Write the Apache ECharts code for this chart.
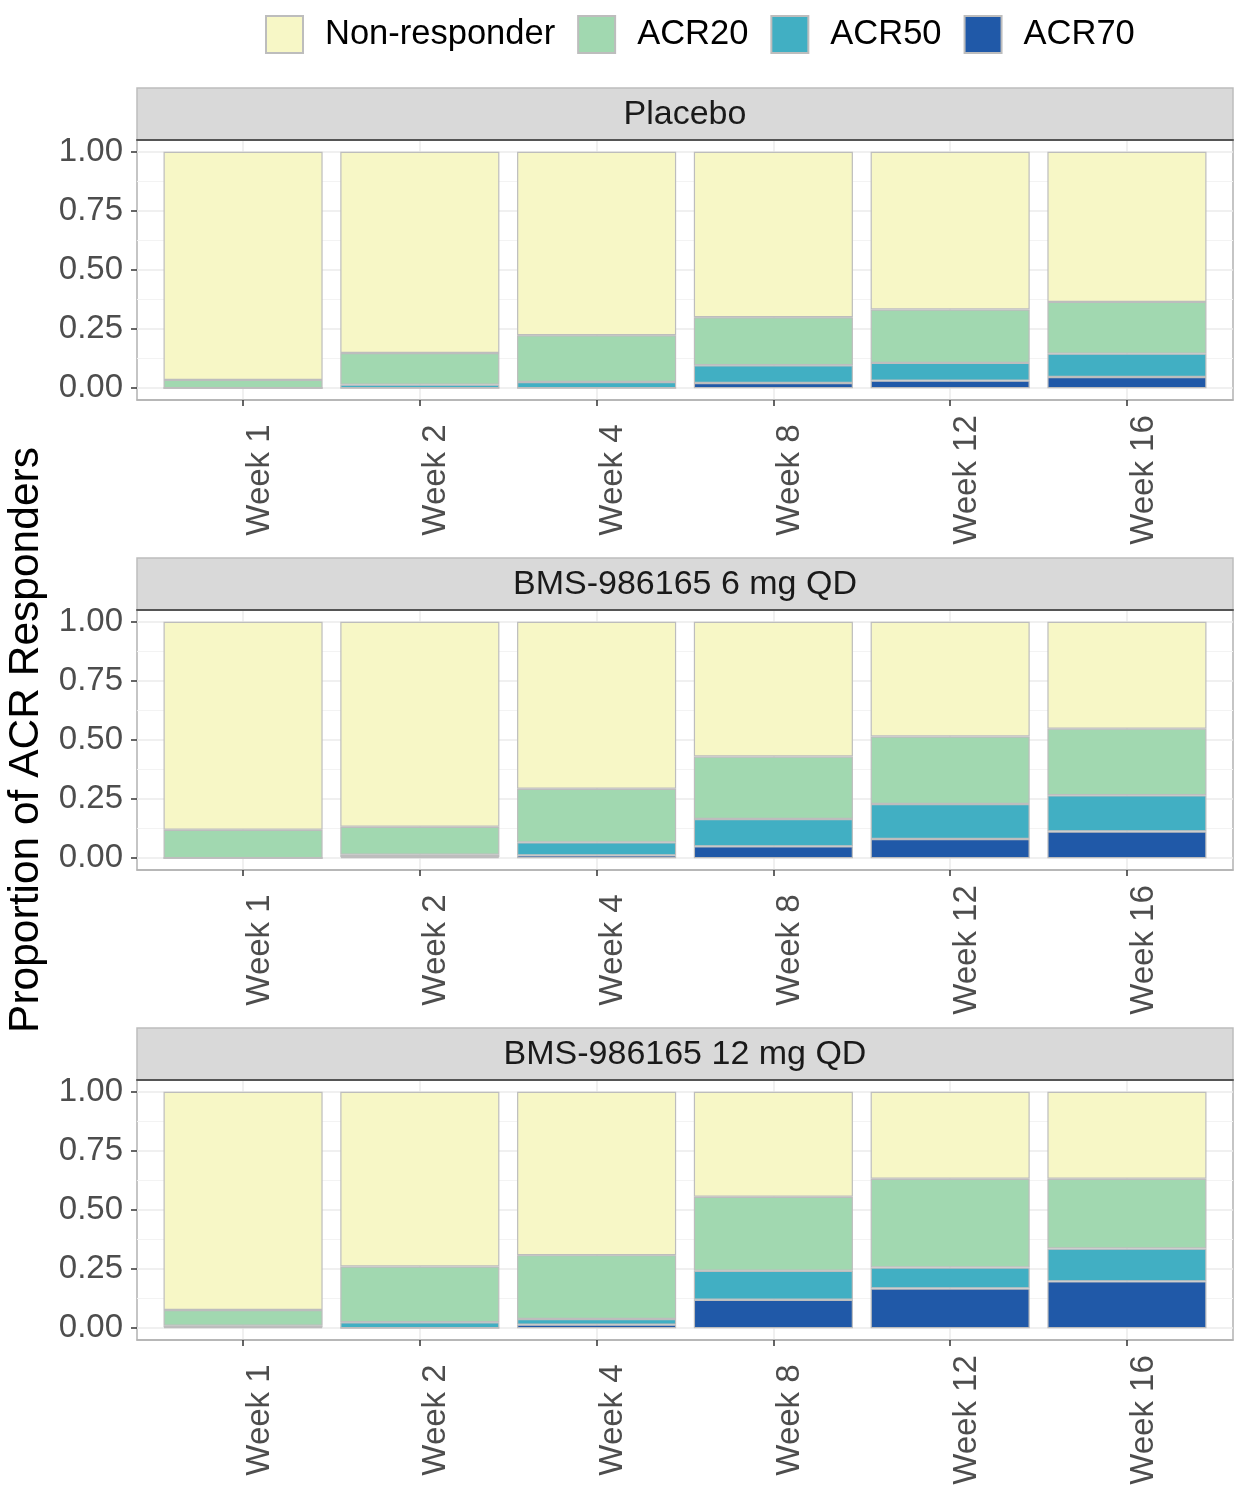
<!DOCTYPE html>
<html><head><meta charset="utf-8">
<script src="https://cdn.jsdelivr.net/npm/echarts@6/dist/echarts.min.js"></script>
<style>html,body{margin:0;padding:0;background:#fff}#c{width:1235px;height:1490px}</style>
</head><body><div id="c"></div>
<script>
// ---- data ----
const weeks = ['Week 1', 'Week 2', 'Week 4', 'Week 8', 'Week 12', 'Week 16'];
const panels = ['Placebo', 'BMS-986165 6 mg QD', 'BMS-986165 12 mg QD'];
const categories = ['Non-responder', 'ACR20', 'ACR50', 'ACR70'];
// cumulative proportion of responders at each level (ACR20 >= ACR50 >= ACR70)
const placeboACR20 = [0.035, 0.149, 0.224, 0.300, 0.333, 0.365];
const placeboACR50 = [0.000, 0.015, 0.026, 0.097, 0.107, 0.146];
const placeboACR70 = [0.000, 0.000, 0.000, 0.022, 0.032, 0.047];
const mg6ACR20 = [0.120, 0.133, 0.294, 0.430, 0.515, 0.548];
const mg6ACR50 = [0.000, 0.015, 0.067, 0.166, 0.229, 0.266];
const mg6ACR70 = [0.000, 0.005, 0.012, 0.050, 0.081, 0.113];
const mg12ACR20 = [0.077, 0.261, 0.309, 0.556, 0.632, 0.632];
const mg12ACR50 = [0.010, 0.025, 0.039, 0.243, 0.257, 0.337];
const mg12ACR70 = [0.004, 0.000, 0.015, 0.120, 0.168, 0.198];

const panelData = [
  [placeboACR20, placeboACR50, placeboACR70],
  [mg6ACR20, mg6ACR50, mg6ACR70],
  [mg12ACR20, mg12ACR50, mg12ACR70]
];

// ---- styles / layout ----
const colors = {'Non-responder': '#F7F7C6', 'ACR20': '#A1D8B0', 'ACR50': '#41AFC3', 'ACR70': '#2059A8'};
const FONT = "'Liberation Sans', Arial, Helvetica, sans-serif";
const LEFT = 137, RIGHT = 2, PLOT_W = 1235 - LEFT - RIGHT;
const panelTops = [140, 610, 1080];
const PANEL_H = 260;
const EXP = 0.05;
const STRIP_H = 52;
const XMIN = 0.4, XMAX = 6.6;
const UNIT = PLOT_W / (XMAX - XMIN);
const D_LEFT = LEFT + (1 - XMIN - 0.5) * UNIT;
const D_W = weeks.length * UNIT;

const grid = [], xAxis = [], yAxis = [], series = [], title = [];
panels.forEach((pname, i) => {
  const top = panelTops[i];
  const dTop = top + PANEL_H * EXP / (1 + 2 * EXP);
  const dH = PANEL_H / (1 + 2 * EXP);
  const gF = 4 * i, gY = 4 * i + 1, gD = 4 * i + 2, gS = 4 * i + 3;
  const nb = {outerBoundsMode: 'none', containLabel: false};
  // frame grid (border, x ticks/labels, vertical grid lines)
  grid.push(Object.assign({left: LEFT, right: RIGHT, top: top, height: PANEL_H, show: true,
    borderColor: '#B3B3B3', borderWidth: 1.5, backgroundColor: 'transparent'}, nb));
  // y grid (y ticks/labels, horizontal grid lines)
  grid.push(Object.assign({left: LEFT, right: RIGHT, top: dTop, height: dH}, nb));
  // data grid (bars)
  grid.push(Object.assign({left: D_LEFT, width: D_W, top: dTop, height: dH}, nb));
  // strip grid
  grid.push(Object.assign({left: LEFT, right: RIGHT, top: top - STRIP_H, height: STRIP_H, show: true,
    borderColor: '#BDBDBD', borderWidth: 1.5, backgroundColor: '#D9D9D9'}, nb));

  xAxis.push({gridIndex: gF, type: 'value', min: XMIN, max: XMAX, splitNumber: 6,
    axisLine: {show: true, onZero: false, lineStyle: {color: '#B3B3B3', width: 1.5}},
    axisTick: {show: true, length: 6, customValues: [1, 2, 3, 4, 5, 6], lineStyle: {color: '#333', width: 1.5}},
    axisLabel: {show: true, customValues: [1, 2, 3, 4, 5, 6], rotate: 90, margin: 80,
      align: 'center', verticalAlign: 'top', color: '#4D4D4D', fontSize: 33, fontFamily: FONT,
      formatter: v => weeks[Math.round(v) - 1] || ''},
    splitLine: {show: true, lineStyle: {color: '#EBEBEB', width: 1.5}}});
  xAxis.push({gridIndex: gY, type: 'value', min: 0, max: 1, show: false});
  xAxis.push({gridIndex: gD, type: 'category', data: weeks, show: false});
  xAxis.push({gridIndex: gS, type: 'value', min: 0, max: 1, show: true,
    axisLine: {show: true, onZero: false, lineStyle: {color: '#555', width: 2}},
    axisTick: {show: false}, axisLabel: {show: false}, splitLine: {show: false}});

  yAxis.push({gridIndex: gF, type: 'value', min: 0, max: 1, show: false});
  const yY = {gridIndex: gY, type: 'value', min: 0, max: 1, interval: 0.25,
    axisLine: {show: false},
    axisTick: {show: true, length: 6, lineStyle: {color: '#333', width: 1.5}},
    axisLabel: {show: true, margin: 14, color: '#4D4D4D', fontSize: 33, fontFamily: FONT,
      formatter: v => v.toFixed(2)},
    splitLine: {show: true, lineStyle: {color: '#EBEBEB', width: 1.5}},
    minorTick: {show: false, splitNumber: 2},
    minorSplitLine: {show: true, lineStyle: {color: '#F3F3F3', width: 1}}};
  if (i === 1) {
    Object.assign(yY, {name: 'Proportion of ACR Responders', nameLocation: 'middle', nameGap: 87,
      nameRotate: 90, nameTextStyle: {fontSize: 42.5, color: '#000', fontFamily: FONT}});
  }
  yAxis.push(yY);
  yAxis.push({gridIndex: gD, type: 'value', min: 0, max: 1, show: false});
  yAxis.push({gridIndex: gS, type: 'value', min: 0, max: 1, show: false});

  title.push({text: pname, left: LEFT + PLOT_W / 2, textAlign: 'center', top: top - STRIP_H + 10, padding: 0,
    textStyle: {fontSize: 34, fontWeight: 'normal', color: '#1A1A1A', fontFamily: FONT}});

  const [a20, a50, a70] = panelData[i];
  const segs = {
    'ACR70': a70.map(v => v),
    'ACR50': a50.map((v, k) => v - a70[k]),
    'ACR20': a20.map((v, k) => v - a50[k]),
    'Non-responder': a20.map(v => 1 - v)
  };
  ['ACR70', 'ACR50', 'ACR20', 'Non-responder'].forEach(name => {
    series.push({
      name: name, type: 'bar', stack: 'p' + i, xAxisIndex: gD, yAxisIndex: gD,
      barWidth: '90%',
      itemStyle: {color: colors[name], borderColor: '#BDBDBD', borderWidth: 1.2},
      emphasis: {disabled: true},
      data: segs[name]
    });
  });
});

const chart = echarts.init(document.getElementById('c'), null, {renderer: 'canvas'});
chart.setOption({
  animation: false,
  backgroundColor: '#fff',
  textStyle: {fontFamily: FONT},
  title: title,
  legend: {
    data: categories, left: 260, top: 10, icon: 'rect', itemWidth: 37, itemHeight: 37, itemGap: 22,
    textStyle: {fontSize: 34.5, color: '#000', fontFamily: FONT, padding: [0, 0, 0, 17]},
    selectedMode: false
  },
  grid: grid, xAxis: xAxis, yAxis: yAxis, series: series
});
</script>
</body></html>
